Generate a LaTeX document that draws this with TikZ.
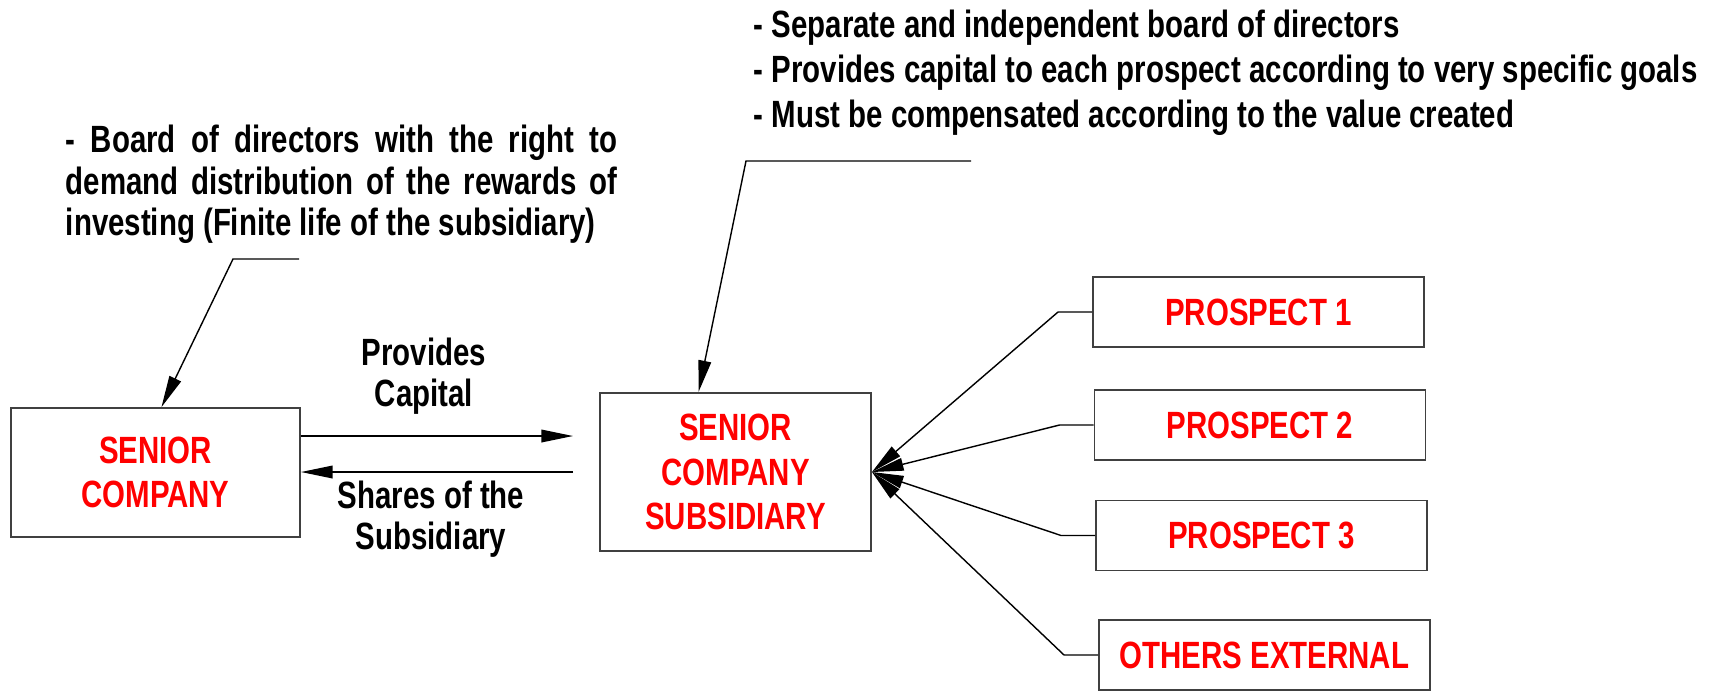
\documentclass[tikz,border=0pt]{standalone}
\usepackage{fontspec}
\setmainfont[FakeStretch=0.775]{Liberation Sans}
\usetikzlibrary{arrows.meta,calc}

\begin{document}
\begin{tikzpicture}[x=0.01cm,y=-0.01cm,
    font=\bfseries\fontsize{10.8}{11.8}\selectfont,
    box/.style={draw=black!75, line width=0.5pt, text=red, align=center, inner sep=0pt,
      font=\bfseries\fontsize{10.8}{12.6}\selectfont},
    prospect/.style={box, minimum width=3.31cm, minimum height=0.70cm},
    tip/.style={-{Triangle[length=9pt,width=3.6pt]}, line width=0.4pt}]
  \clip (0,0) rectangle (1721,690);
  \node[box, minimum width=2.89cm, minimum height=1.29cm] (senior) at (155.5,472.5) {SENIOR\\COMPANY};
  \node[box, minimum width=2.71cm, minimum height=1.58cm] (sub) at (735.5,472) {SENIOR\\COMPANY\\SUBSIDIARY};
  \node[prospect] (p1) at (1258.5,312) {PROSPECT 1};
  \node[prospect] (p2) at (1260,425) {PROSPECT 2};
  \node[prospect] (p3) at (1261.5,535.5) {PROSPECT 3};
  \node[prospect] (others) at (1264.5,655) {OTHERS EXTERNAL};
  \node[text width=5.51cm, align=justify, inner sep=0pt] (boardnote) at (341.5,184.5)
    {\hyphenpenalty10000\relax - Board of directors with the right to demand distribution of the rewards of investing (Finite life of the subsidiary)\par};
  \node[anchor=west, align=left, inner sep=0pt, font=\bfseries\fontsize{10.8}{12.8}\selectfont] (subnote) at (753,73)
    {- Separate and independent board of directors\\
     - Provides capital to each prospect according to very specific goals\\
     - Must be compensated according to the value created};
  \node[align=center] (capital) at (424,376) {Provides\\Capital};
  \node[align=center] (shares) at (431,519) {Shares of the\\Subsidiary};
  \coordinate (capEnd) at (573,436);
  \coordinate (shStart) at (573,472);
  \draw[tip] (senior.east |- capEnd) -- (capEnd);
  \draw[tip] (shStart) -- (senior.east |- shStart);
  \coordinate (boardLead) at (299,259);
  \coordinate (subLead) at (971,161);
  \draw[tip] (boardLead) -- ++(-66,0) -- ($(senior.north)+(6,0)$);
  \draw[tip] (subLead) -- ++(-225,0) -- ($(sub.north)+(-37,0)$);
  \foreach \p in {p1,p2,p3,others}
    \draw[tip] (\p.west) -- ++(-34,0) -- (sub.east);
\end{tikzpicture}
\end{document}
